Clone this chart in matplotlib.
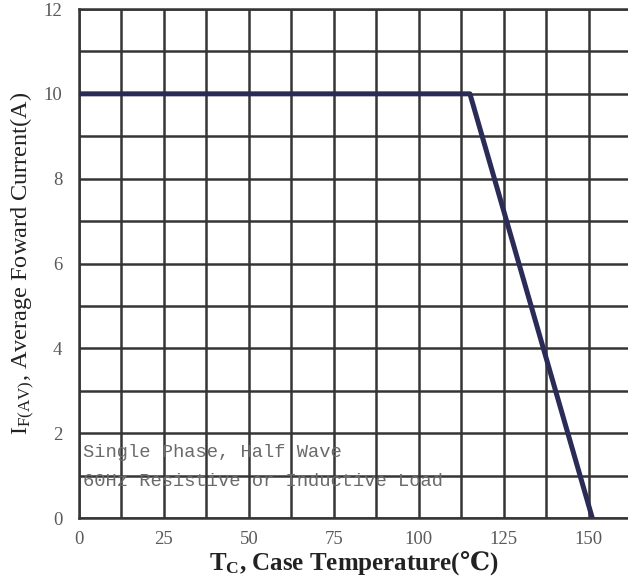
import matplotlib.pyplot as plt
from matplotlib.ticker import MultipleLocator

# derating curve
temps = [0, 115, 151]
current = [10, 10, 0]
x_ticks = [0, 25, 50, 75, 100, 125, 150]
y_ticks = [0, 2, 4, 6, 8, 10, 12]
note = ['Single Phase, Half Wave', '60Hz Resistive or Inductive Load']

plt.rcParams['mathtext.fontset'] = 'custom'
plt.rcParams['mathtext.rm'] = 'Liberation Serif'
plt.rcParams['mathtext.it'] = 'Liberation Serif'
plt.rcParams['mathtext.bf'] = 'Liberation Serif:bold'
# Liberation has no degree-Celsius sign, borrow it from DejaVu
plt.rcParams['mathtext.sf'] = 'DejaVu Serif:bold'

fig = plt.figure(figsize=(6.28, 5.81), dpi=100)
ax = fig.add_axes([0.1258, 0.1084, 0.8742, 0.8761])

grid_col = '#353535'
ax.plot(temps, current, color='#2b2b58', linewidth=3.6, solid_capstyle='butt', zorder=3)

ax.set_xlim(0, 161.5)
ax.set_ylim(0, 12)
ax.xaxis.set_minor_locator(MultipleLocator(12.5))
ax.yaxis.set_minor_locator(MultipleLocator(1))
ax.set_xticks(x_ticks)
ax.set_yticks(y_ticks)
ax.grid(which='both', color=grid_col, linewidth=1.8)
ax.set_axisbelow(True)
ax.tick_params(which='both', length=0)
ax.tick_params(axis='x', pad=9)
ax.tick_params(axis='y', pad=12)
for lab in ax.get_xticklabels() + ax.get_yticklabels():
    lab.set_fontfamily('Liberation Serif')
    lab.set_fontsize(13.5)
    lab.set_color('#5a5a5a')

for side in ['left', 'bottom', 'top']:
    ax.spines[side].set_color(grid_col)
    ax.spines[side].set_linewidth(1.8)
ax.spines['right'].set_visible(False)

ax.set_ylabel(r'I$_{F(AV)}$, Average Foward Current(A)', family='Liberation Serif',
              fontsize=17.5, labelpad=5, color='#222222')
ax.set_xlabel(r'T$_\mathbf{C}$, Case Temperature($\mathsf{℃}$)', family='Liberation Serif',
              fontsize=18, fontweight='bold', labelpad=1, color='#222222')

ax.text(1.2, 1.55, note[0], family='Liberation Mono', fontsize=13.5, color='#6a6a6a', va='center')
ax.text(1.2, 0.85, note[1], family='Liberation Mono', fontsize=13.5, color='#6a6a6a', va='center')

plt.savefig('out.png', dpi=100)
